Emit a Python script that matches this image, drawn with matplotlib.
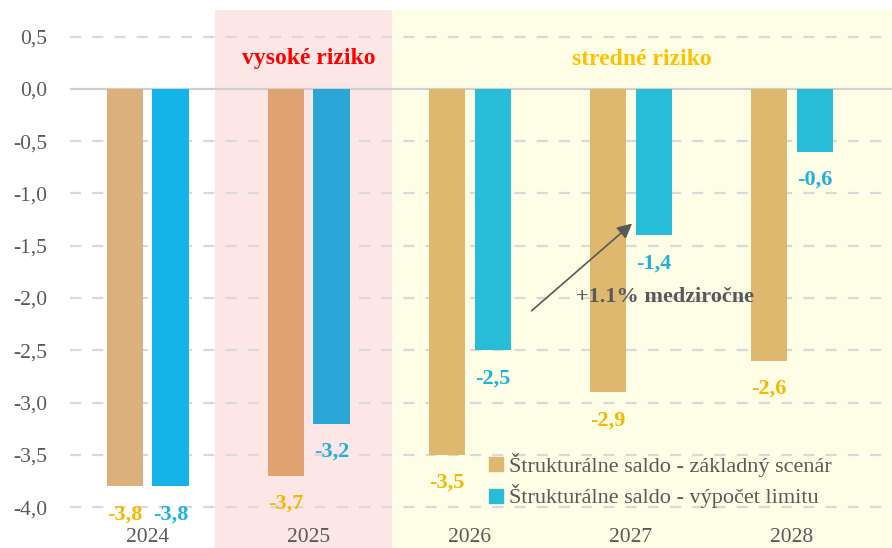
import matplotlib.pyplot as plt
from matplotlib.patches import Patch
import numpy as np

years = ["2024", "2025", "2026", "2027", "2028"]
zakladny = [-3.8, -3.7, -3.5, -2.9, -2.6]
limit = [-3.8, -3.2, -2.5, -1.4, -0.6]
series_names = ["Štrukturálne saldo - základný scenár", "Štrukturálne saldo - výpočet limitu"]

tan_colors = ["#DBB07A", "#E0A270", "#DDB86E", "#DDB86E", "#DDB86E"]
blue_colors = ["#14B4E8", "#2AA6D6", "#27BDD8", "#27BDD8", "#27BDD8"]
gray = "#595959"

plt.rcParams['font.family'] = ['Liberation Serif', 'DejaVu Serif']

fig = plt.figure(figsize=(8.92, 5.48), dpi=100)
ax = fig.add_axes([0.078, 0.0, 0.922, 0.981])

x = np.arange(len(years))
w = 0.225
off = 0.142

# risk zones
ax.axvspan(0.416, 1.52, color="#FDE6E6", zorder=0, lw=0)
ax.axvspan(1.52, 4.7, color="#FEFDE6", zorder=0, lw=0)

ticks = np.arange(-4.0, 0.51, 0.5)
for yv in ticks:
    if abs(yv) < 1e-9:
        ax.axhline(0, color="#D0D0D0", lw=1.6, zorder=1)
    else:
        ax.axhline(yv, color="#D9D9D9", lw=1.6, ls=(0, (5, 5)), zorder=1)

ax.bar(x - off, zakladny, w, color=tan_colors, zorder=2)
ax.bar(x + off, limit, w, color=blue_colors, zorder=2)

for xi, v in zip(x, zakladny):
    ax.annotate(f"{v:.1f}".replace(".", ","), (xi - off, v), xytext=(0, -13),
                textcoords="offset points", ha="center", va="top",
                color="#F5B700", fontsize=16, fontweight="bold", zorder=4)
for xi, v in zip(x, limit):
    ax.annotate(f"{v:.1f}".replace(".", ","), (xi + off, v), xytext=(0, -13),
                textcoords="offset points", ha="center", va="top",
                color="#1FB2DD", fontsize=16, fontweight="bold", zorder=4)

for xi, yr in zip(x, years):
    ax.text(xi, -4.29, yr, ha="center", va="center", color=gray, fontsize=15.5)

ax.text(1, 0.29, "vysoké riziko", ha="center", va="center", color="#FF0000",
        fontsize=17, fontweight="bold")
ax.text(3.07, 0.28, "stredné riziko", ha="center", va="center", color="#FFC000",
        fontsize=17, fontweight="bold")

ax.annotate("", xy=(3.02, -1.27), xytext=(2.37, -2.14),
            arrowprops=dict(arrowstyle="-|>", color=gray, lw=1.2, mutation_scale=22))
ax.text(3.21, -1.99, "+1.1% medziročne", ha="center", va="center", color=gray,
        fontsize=16, fontweight="bold")

ax.set_xlim(-0.484, 4.62)
ax.set_ylim(-4.39, 0.75)
ax.set_yticks(ticks)
ax.set_yticklabels([f"{t:.1f}".replace(".", ",") for t in ticks], color=gray, fontsize=15.5)
ax.set_xticks([])
ax.tick_params(axis="y", length=0, pad=16)
for s in ax.spines.values():
    s.set_visible(False)

handles = [Patch(color="#DDB86E", label=series_names[0]),
           Patch(color="#27BDD8", label=series_names[1])]
ax.legend(handles=handles, loc="lower left", bbox_to_anchor=(0.497, 0.053), frameon=False,
          fontsize=16, labelcolor=gray, handlelength=0.6, handleheight=0.6,
          handletextpad=0.3, labelspacing=0.35, borderpad=0)

fig.savefig("out.png", dpi=100)
